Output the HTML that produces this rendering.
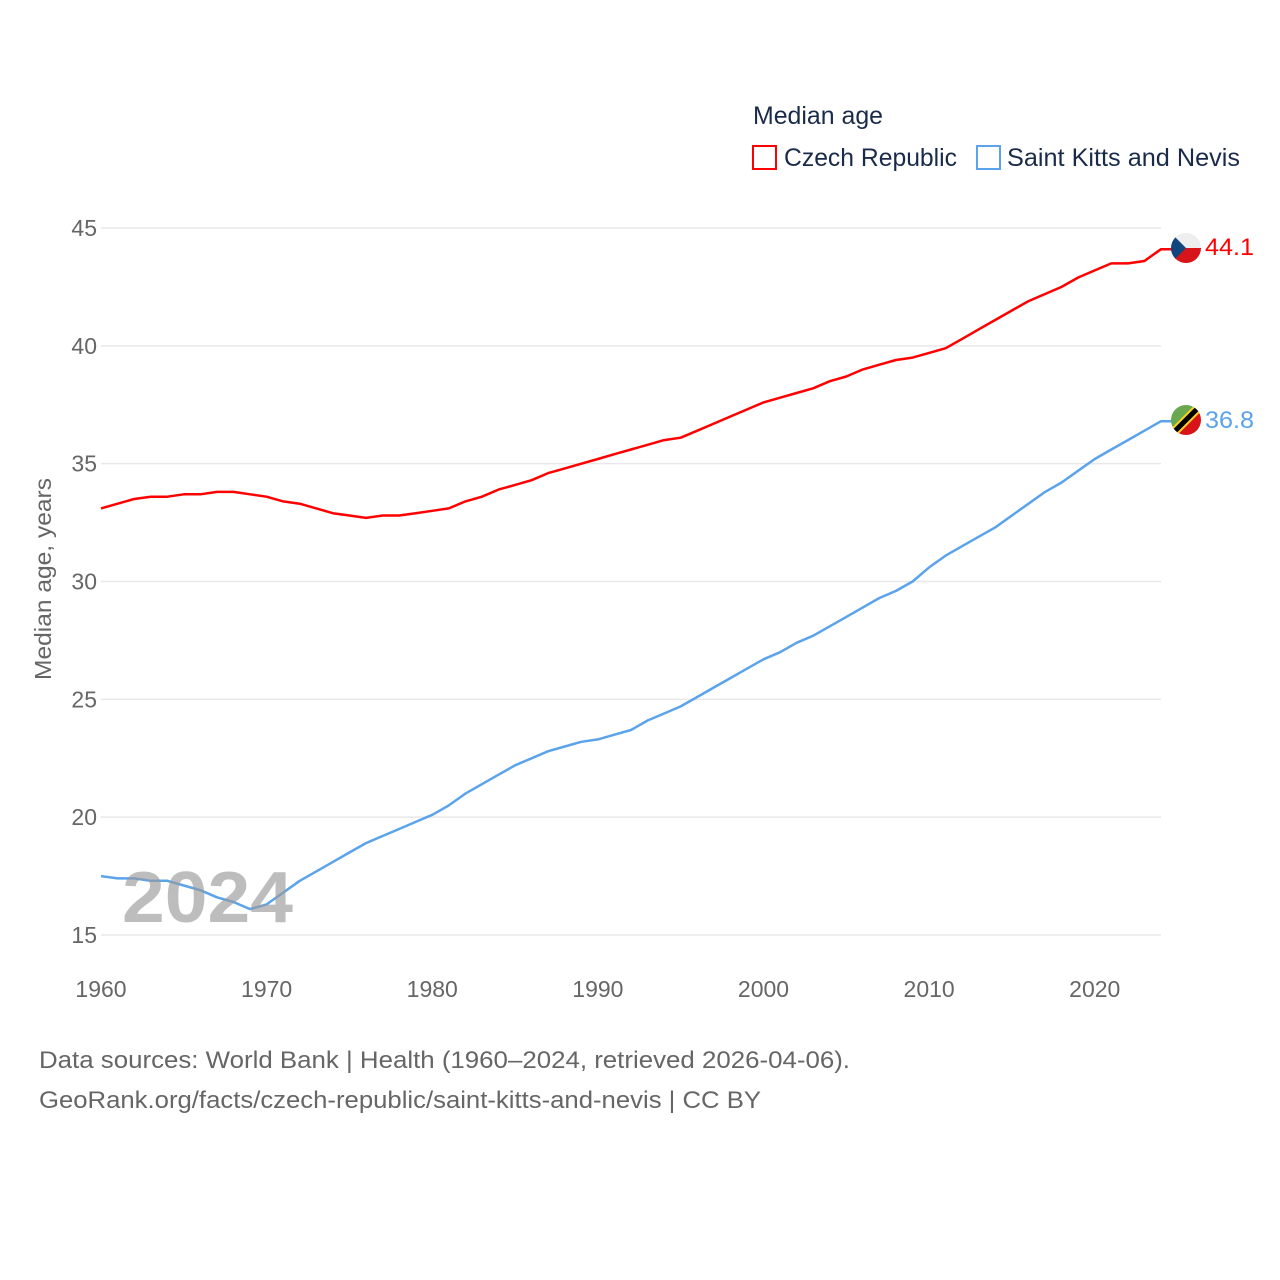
<!DOCTYPE html>
<html><head><meta charset="utf-8"><style>
body{margin:0;background:#fff;font-family:"Liberation Sans",sans-serif}
svg{display:block}
</style></head><body>
<svg id="chart" width="1280" height="1280" xmlns="http://www.w3.org/2000/svg" font-family="Liberation Sans, sans-serif">
<text x="753" y="124" font-size="25" fill="#1a2b4a" textLength="130" lengthAdjust="spacingAndGlyphs">Median age</text>
<g><rect x="753" y="146" width="23" height="23" fill="none" stroke="#ff0000" stroke-width="2"/><text x="784" y="166" font-size="25" fill="#1a2b4a" textLength="173" lengthAdjust="spacingAndGlyphs">Czech Republic</text></g>
<g><rect x="977" y="146" width="23" height="23" fill="none" stroke="#5ba3ea" stroke-width="2"/><text x="1007" y="166" font-size="25" fill="#1a2b4a" textLength="233" lengthAdjust="spacingAndGlyphs">Saint Kitts and Nevis</text></g>
<g id="grid"></g><g id="yt"></g><g id="xt"></g>
<text transform="translate(51,579) rotate(-90)" text-anchor="middle" font-size="23" fill="#666" textLength="202" lengthAdjust="spacingAndGlyphs">Median age, years</text>
<g id="lines"></g>
<text x="122" y="922" font-size="72" font-weight="bold" fill="#999" fill-opacity="0.65" textLength="171" lengthAdjust="spacingAndGlyphs">2024</text>
<g><clipPath id="c1"><circle cx="1186" cy="248" r="15"/></clipPath><g clip-path="url(#c1)"><rect x="1171" y="233" width="30" height="15" fill="#eee"/><rect x="1171" y="248" width="30" height="15" fill="#d7141a"/><polygon points="1171,233 1186,248 1171,263" fill="#11457e"/></g></g>
<g><clipPath id="c2"><circle cx="1186" cy="420" r="15"/></clipPath><g clip-path="url(#c2)"><polygon points="1171,405 1201,405 1171,435" fill="#6aa84f"/><polygon points="1201,405 1201,435 1171,435" fill="#d7141a"/><line x1="1169" y1="437" x2="1203" y2="403" stroke="#fcd116" stroke-width="9"/><line x1="1169" y1="437" x2="1203" y2="403" stroke="#000" stroke-width="5"/></g></g>
<text x="1205" y="255" font-size="24" fill="#ff0000" textLength="49" lengthAdjust="spacingAndGlyphs">44.1</text>
<text x="1205" y="428" font-size="24" fill="#5ba3ea" textLength="49" lengthAdjust="spacingAndGlyphs">36.8</text>
<text x="39" y="1068" font-size="24" fill="#666" textLength="811" lengthAdjust="spacingAndGlyphs">Data sources: World Bank | Health (1960–2024, retrieved 2026-04-06).</text>
<text x="39" y="1108" font-size="24" fill="#666" textLength="722" lengthAdjust="spacingAndGlyphs">GeoRank.org/facts/czech-republic/saint-kitts-and-nevis | CC BY</text>
</svg>
<script>
const years=[];for(let y=1960;y<=2024;y++)years.push(y);
const czech=[33.1,33.3,33.5,33.6,33.6,33.7,33.7,33.8,33.8,33.7,33.6,33.4,33.3,33.1,32.9,32.8,32.7,32.8,32.8,32.9,33.0,33.1,33.4,33.6,33.9,34.1,34.3,34.6,34.8,35.0,35.2,35.4,35.6,35.8,36.0,36.1,36.4,36.7,37.0,37.3,37.6,37.8,38.0,38.2,38.5,38.7,39.0,39.2,39.4,39.5,39.7,39.9,40.3,40.7,41.1,41.5,41.9,42.2,42.5,42.9,43.2,43.5,43.5,43.6,44.1];
const skn=[17.5,17.4,17.4,17.3,17.3,17.1,16.9,16.6,16.4,16.1,16.3,16.8,17.3,17.7,18.1,18.5,18.9,19.2,19.5,19.8,20.1,20.5,21.0,21.4,21.8,22.2,22.5,22.8,23.0,23.2,23.3,23.5,23.7,24.1,24.4,24.7,25.1,25.5,25.9,26.3,26.7,27.0,27.4,27.7,28.1,28.5,28.9,29.3,29.6,30.0,30.6,31.1,31.5,31.9,32.3,32.8,33.3,33.8,34.2,34.7,35.2,35.6,36.0,36.4,36.8];
const yTicks=[15,20,25,30,35,40,45];
const xTicks=[1960,1970,1980,1990,2000,2010,2020];
const X=v=>101+(v-1960)*(1161-101)/64;
const Y=v=>935-(v-15)*(935-228)/30;
const NS="http://www.w3.org/2000/svg";
function mk(t,a,p){const e=document.createElementNS(NS,t);for(const k in a)e.setAttribute(k,a[k]);p.appendChild(e);return e;}
const grid=document.getElementById('grid'),yt=document.getElementById('yt'),xt=document.getElementById('xt'),lines=document.getElementById('lines');
yTicks.forEach(v=>{
const l=mk('line',{x1:101,x2:1161,y1:Y(v),y2:Y(v),stroke:'#e8e8e8','stroke-width':1.5},grid);


const t=mk('text',{x:97,y:Y(v)+8,'text-anchor':'end','font-size':23,fill:'#666'},yt);t.textContent=v;


});
xTicks.forEach(v=>{
const t=mk('text',{x:X(v),y:997,'text-anchor':'middle','font-size':23,fill:'#666'},xt);t.textContent=v;


});
function line(data,color,name){
let d=data.map((v,i)=>(i?'L':'M')+X(years[i]).toFixed(1)+','+Y(v).toFixed(1)).join(' ');
d+=' L1172,'+Y(data[data.length-1]).toFixed(1);
const p=mk('path',{d:d,fill:'none',stroke:color,'stroke-width':2.5,'stroke-linejoin':'round'},lines);


}
line(czech,'#ff0000','czech-line');
line(skn,'#5ba3ea','skn-line');
</script>
</body></html>
